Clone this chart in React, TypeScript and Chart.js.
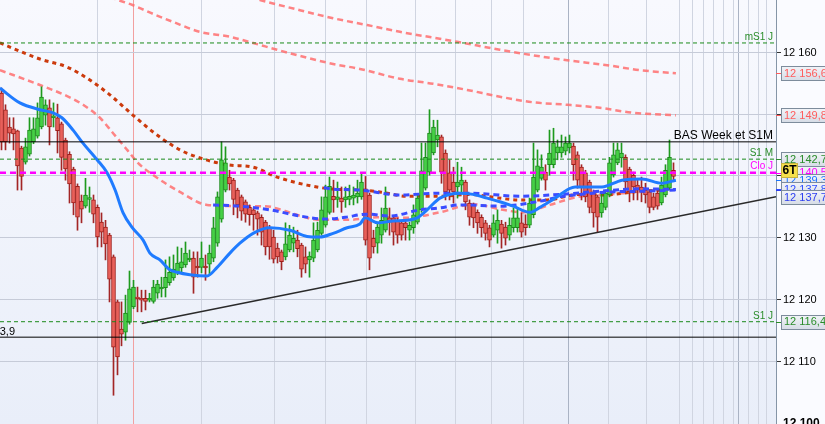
import React, { useEffect, useRef } from 'react';
import { Chart, registerables } from 'chart.js';

Chart.register(...registerables);

const FONT = 'Arial, "Liberation Sans", Helvetica, sans-serif';

// ---- Candles (index 0..168) ----
const opens = [
  12153.4, 12150.7, 12147.9, 12147.6, 12147.3, 12144.5, 12142.2, 12143.5, 12145.5, 12146.4,
  12147.9, 12149.8, 12151.0, 12149.4, 12149.4, 12148.4, 12145.8, 12143.5, 12141.1, 12138.3,
  12135.9, 12135.1, 12136.2, 12136.1, 12134.9, 12132.5, 12131.7, 12130.4, 12126.9, 12119.6,
  12115.2, 12114.7, 12116.3, 12118.8, 12120.4, 12120.2, 12120.2, 12119.9, 12119.7, 12121.0,
  12121.7, 12121.9, 12122.7, 12123.5, 12124.3, 12125.1, 12125.6, 12126.4, 12126.7, 12125.4,
  12125.2, 12125.4, 12125.7, 12126.7, 12129.1, 12133.0, 12137.7, 12139.8, 12139.3, 12137.7,
  12136.6, 12135.8, 12134.9, 12134.5, 12134.0, 12133.3, 12132.5, 12131.7, 12130.1, 12128.3,
  12127.7, 12126.9, 12128.0, 12129.1, 12129.6, 12128.8, 12126.9, 12126.4, 12126.7, 12128.0,
  12130.7, 12132.0, 12134.1, 12136.7, 12136.2, 12136.4, 12136.1, 12136.2, 12136.4, 12136.6,
  12136.6, 12137.9, 12136.9, 12129.9, 12129.1, 12130.4, 12131.2, 12133.2, 12133.2, 12132.8,
  12132.4, 12132.4, 12131.2, 12131.6, 12132.5, 12134.5, 12138.0, 12140.6, 12143.7, 12145.8,
  12146.3, 12143.7, 12140.5, 12139.0, 12138.2, 12138.5, 12139.0, 12135.6, 12135.3, 12134.1,
  12133.3, 12132.4, 12131.6, 12130.4, 12131.2, 12132.2, 12131.7, 12130.4, 12131.6, 12131.6,
  12132.4, 12132.2, 12132.0, 12133.7, 12137.7, 12139.6, 12140.6, 12141.8, 12141.8, 12143.7,
  12143.7, 12144.0, 12144.5, 12144.8, 12143.4, 12141.4, 12140.5, 12139.0, 12137.4, 12136.6,
  12134.0, 12134.9, 12136.9, 12140.1, 12142.1, 12142.9, 12143.0, 12141.1, 12140.1, 12138.5,
  12138.2, 12137.7, 12137.4, 12136.6, 12137.2, 12135.6, 12136.9, 12138.0, 12140.9,
];
const highs = [
  12154.2, 12151.5, 12149.4, 12149.4, 12147.4, 12144.8, 12146.1, 12149.4, 12149.4, 12151.8,
  12154.4, 12152.3, 12152.3, 12151.8, 12151.6, 12148.7, 12146.1, 12143.9, 12141.4, 12138.7,
  12136.9, 12139.6, 12138.2, 12136.9, 12135.3, 12134.0, 12132.8, 12130.7, 12127.2, 12119.9,
  12119.6, 12120.7, 12124.6, 12123.1, 12122.0, 12121.5, 12121.5, 12121.0, 12123.1, 12123.1,
  12123.6, 12126.4, 12126.9, 12127.2, 12128.5, 12128.3, 12129.3, 12128.0, 12127.7, 12127.7,
  12129.3, 12127.2, 12128.8, 12133.3, 12137.4, 12145.5, 12144.7, 12140.9, 12139.6, 12138.0,
  12136.9, 12136.1, 12135.3, 12134.8, 12134.3, 12133.7, 12132.8, 12132.0, 12131.2, 12129.1,
  12128.0, 12132.4, 12132.0, 12131.7, 12131.2, 12129.1, 12128.5, 12127.7, 12132.4, 12132.5,
  12136.6, 12138.5, 12139.8, 12139.3, 12139.0, 12138.2, 12138.2, 12138.5, 12138.2, 12139.3,
  12140.3, 12139.9, 12137.2, 12131.2, 12132.4, 12134.8, 12138.2, 12134.8, 12133.5, 12133.2,
  12132.8, 12132.8, 12132.5, 12135.3, 12136.9, 12145.3, 12145.3, 12150.7, 12149.0, 12149.0,
  12146.6, 12144.2, 12142.6, 12141.4, 12142.2, 12141.4, 12139.3, 12136.1, 12135.6, 12134.5,
  12133.7, 12132.8, 12132.0, 12133.7, 12134.5, 12132.8, 12132.5, 12133.2, 12134.8, 12134.9,
  12134.0, 12133.7, 12136.4, 12145.3, 12144.2, 12143.4, 12141.8, 12147.4, 12147.7, 12145.8,
  12146.6, 12146.3, 12146.6, 12145.3, 12143.9, 12141.8, 12140.9, 12139.3, 12137.7, 12136.9,
  12137.2, 12137.7, 12143.0, 12145.3, 12145.3, 12145.3, 12143.4, 12141.4, 12140.6, 12139.6,
  12139.8, 12138.8, 12137.7, 12137.2, 12137.7, 12139.8, 12141.8, 12145.8, 12142.1,
];
const lows = [
  12144.2, 12144.2, 12145.3, 12144.2, 12137.7, 12137.7, 12141.9, 12143.2, 12145.2, 12146.1,
  12147.6, 12148.2, 12145.0, 12147.9, 12143.7, 12140.9, 12139.3, 12135.6, 12133.7, 12131.2,
  12132.4, 12134.8, 12134.1, 12132.4, 12128.5, 12128.5, 12126.4, 12119.6, 12104.5, 12107.8,
  12112.5, 12113.4, 12116.0, 12118.5, 12118.0, 12118.0, 12118.3, 12119.6, 12119.4, 12120.2,
  12120.4, 12120.4, 12122.3, 12123.1, 12124.0, 12124.3, 12125.2, 12126.1, 12121.0, 12123.6,
  12124.3, 12123.1, 12124.0, 12126.1, 12128.6, 12132.5, 12137.4, 12137.7, 12133.7, 12133.2,
  12132.8, 12132.5, 12132.0, 12131.2, 12130.4, 12128.8, 12127.2, 12126.5, 12125.9, 12125.9,
  12124.8, 12126.4, 12127.7, 12127.7, 12126.9, 12123.6, 12124.3, 12123.6, 12126.1, 12127.7,
  12130.4, 12131.7, 12133.8, 12134.1, 12134.9, 12134.1, 12134.9, 12135.3, 12135.3, 12135.6,
  12136.2, 12128.8, 12124.8, 12127.5, 12127.5, 12129.1, 12130.9, 12130.4, 12128.8, 12129.1,
  12129.6, 12129.6, 12129.6, 12130.7, 12132.2, 12134.1, 12137.7, 12140.1, 12143.4, 12144.7,
  12138.8, 12136.1, 12136.1, 12135.6, 12136.4, 12137.4, 12134.5, 12132.0, 12131.6, 12130.7,
  12130.1, 12129.6, 12128.5, 12130.1, 12129.1, 12128.3, 12128.8, 12129.6, 12130.9, 12130.9,
  12130.1, 12130.4, 12131.6, 12133.2, 12137.4, 12139.3, 12137.7, 12140.1, 12141.3, 12142.6,
  12143.0, 12143.4, 12143.7, 12139.3, 12138.0, 12136.1, 12135.8, 12134.0, 12131.7, 12130.9,
  12133.3, 12134.5, 12136.6, 12139.8, 12141.8, 12141.4, 12137.2, 12135.8, 12136.1, 12136.1,
  12135.8, 12135.6, 12134.0, 12134.5, 12134.6, 12135.3, 12136.6, 12137.7, 12139.3,
];
const closes = [
  12145.5, 12145.5, 12146.9, 12146.8, 12141.6, 12139.9, 12144.7, 12147.4, 12147.6, 12149.4,
  12152.75, 12151.5, 12147.9, 12149.7, 12147.3, 12143.0, 12141.1, 12138.7, 12135.6, 12133.3,
  12134.6, 12136.9, 12136.5, 12133.8, 12130.1, 12130.9, 12129.0, 12123.3, 12112.3, 12110.7,
  12114.4, 12117.8, 12121.7, 12122.0, 12120.1, 12119.9, 12119.7, 12120.2, 12122.0, 12122.5,
  12122.0, 12123.6, 12124.4, 12124.9, 12125.9, 12126.1, 12127.5, 12126.7, 12123.6, 12125.1,
  12126.7, 12125.1, 12127.5, 12131.6, 12136.6, 12142.6, 12142.1, 12138.7, 12136.2, 12135.3,
  12134.3, 12133.8, 12133.7, 12133.7, 12133.0, 12130.9, 12128.5, 12128.5, 12126.5, 12126.9,
  12126.1, 12129.0, 12130.4, 12129.9, 12128.2, 12124.9, 12125.7, 12127.0, 12129.6, 12131.2,
  12134.5, 12136.6, 12138.3, 12136.1, 12136.6, 12135.8, 12136.6, 12136.7, 12136.9, 12137.2,
  12139.0, 12129.6, 12126.7, 12128.5, 12131.7, 12132.8, 12134.8, 12132.5, 12130.9, 12130.4,
  12130.4, 12131.6, 12132.0, 12133.7, 12136.4, 12140.8, 12143.0, 12146.9, 12147.9, 12146.6,
  12140.6, 12137.4, 12137.7, 12137.4, 12139.0, 12139.3, 12135.8, 12133.3, 12133.2, 12132.4,
  12131.6, 12130.7, 12129.6, 12132.4, 12132.8, 12130.7, 12129.9, 12132.0, 12133.2, 12133.2,
  12130.9, 12131.6, 12135.6, 12139.8, 12141.6, 12141.4, 12139.3, 12143.7, 12145.3, 12144.7,
  12144.7, 12145.3, 12145.3, 12141.8, 12139.3, 12138.2, 12136.6, 12134.9, 12134.0, 12133.3,
  12135.6, 12137.2, 12142.1, 12143.4, 12144.2, 12143.7, 12139.0, 12137.4, 12138.2, 12137.7,
  12137.4, 12136.9, 12134.9, 12134.9, 12135.1, 12138.5, 12140.9, 12143.0, 12139.9,
];

// ---- Indicator lines: [candle index, price] ----
const maBlue: [number, number][] = [
  [-0.4, 12154.2], [4.6, 12151.8], [9.6, 12150.7], [12.9, 12150.2], [15.1, 12149.4], [17.9, 12147.4],
  [20.1, 12145.5], [23.9, 12142.6], [26.4, 12140.5], [28.4, 12137.7], [30.4, 12134.0], [32.6, 12131.7],
  [35.4, 12129.6], [37.1, 12127.5], [39.6, 12126.4], [42.1, 12124.8], [43.9, 12124.4], [47.1, 12124.0],
  [51.4, 12123.8], [53.9, 12125.2], [57.1, 12127.5], [59.6, 12129.1], [62.9, 12130.7], [67.1, 12131.6],
  [72.1, 12131.2], [76.4, 12130.2], [79.6, 12130.1], [82.9, 12130.7], [86.4, 12131.6], [89.6, 12132.2],
  [90.9, 12133.2], [94.1, 12132.4], [97.9, 12132.7], [101.4, 12132.8], [103.9, 12133.2], [106.4, 12134.5],
  [109.6, 12136.4], [114.6, 12137.2], [117.9, 12137.0], [121.4, 12136.4], [124.6, 12135.8], [127.9, 12135.1],
  [132.1, 12134.1], [134.6, 12134.9], [138.4, 12136.4], [143.4, 12138.2], [150.1, 12138.2], [155.1, 12139.3],
  [160.1, 12139.5], [165.1, 12138.8], [168.6, 12139.3],
];
const maBlueDashA: [number, number][] = [
  [80.6, 12138.1], [82.1, 12137.9], [89.6, 12137.7],
  [99.6, 12136.9], [109.6, 12137.2], [117.1, 12137.2], [129.6, 12136.7], [139.6, 12137.0], [149.6, 12137.5],
  [159.6, 12137.9], [168.6, 12137.8],
];
const maBlueDashB: [number, number][] = [
  [52.9, 12135.3], [59.6, 12135.1], [67.1, 12134.5], [74.6, 12133.5], [81.1, 12133.0], [85.9, 12133.3],
  [91.4, 12133.8], [97.1, 12133.5], [104.6, 12134.5], [109.6, 12134.8], [114.6, 12135.3], [124.6, 12135.1],
  [134.6, 12135.9], [139.6, 12136.6], [144.6, 12137.0], [152.1, 12137.4], [159.6, 12137.5], [168.6, 12137.7],
];
const maRed: [number, number][] = [
  [-0.4, 12161.5], [9.6, 12158.9], [16.4, 12157.6], [22.1, 12155.5], [27.1, 12153.1], [32.9, 12149.8],
  [38.9, 12146.6], [44.6, 12144.2], [49.6, 12142.9], [56.4, 12141.8], [62.9, 12141.4], [68.9, 12139.8],
  [76.4, 12138.5], [82.1, 12137.9], [89.6, 12137.7], [94.6, 12137.4], [101.4, 12136.7], [109.6, 12136.7],
  [117.1, 12137.0], [122.1, 12136.6], [129.6, 12136.1], [135.9, 12136.1], [144.6, 12137.0], [150.1, 12136.9],
  [159.6, 12137.5], [165.1, 12137.7],
];
const bandLower: [number, number][] = [
  [-0.4, 12157.1], [9.6, 12154.7], [16.4, 12152.9], [20.4, 12151.5], [24.6, 12149.4], [27.9, 12146.9],
  [31.4, 12144.2], [34.1, 12142.1], [37.1, 12140.5], [44.6, 12137.4], [51.4, 12135.3], [59.6, 12135.1],
  [65.9, 12135.1], [70.9, 12134.3], [75.9, 12133.3], [78.9, 12132.9], [87.1, 12132.9], [94.1, 12133.3],
  [100.9, 12133.2], [109.6, 12134.1], [117.9, 12135.4], [124.6, 12134.6], [130.4, 12134.1], [137.1, 12135.3],
  [144.1, 12136.6], [150.1, 12136.9], [159.6, 12137.4],
];
const bandUpper1: [number, number][] = [
  [27.1, 12168.9], [29.1, 12168.45], [32.9, 12167.6], [37.9, 12166.2], [42.9, 12164.9], [49.6, 12163.3],
  [57.1, 12162.5], [62.9, 12161.5], [68.9, 12160.4], [76.4, 12159.1], [82.9, 12158.1], [89.6, 12157.3],
  [99.6, 12155.7], [107.9, 12154.9], [116.4, 12153.9], [124.6, 12152.8], [132.9, 12151.9], [141.4, 12151.5],
  [149.6, 12151.0], [157.9, 12150.2], [168.6, 12149.8],
];
const bandUpper2: [number, number][] = [
  [62.1, 12168.9], [64.6, 12168.45], [74.6, 12166.8], [82.9, 12165.5], [91.4, 12164.4], [99.6, 12163.3],
  [113.9, 12161.7], [124.6, 12160.4], [132.9, 12159.5], [141.4, 12158.7], [151.4, 12157.9], [159.6, 12157.1],
  [168.6, 12156.6],
];

// ---- Levels / trend ----
const levelValues = [12161.5, 12145.5, 12142.7, 12140.5, 12116.4, 12113.9];
const levelLabels = ['mS1 J', 'BAS Week et S1M', 'S1 M', 'Clo J', 'S1 J', '12 113,9'];
const trendLine: [number, number][] = [[35.05, 12116.1], [193.625, 12136.6]];

// ---- Axis ----
const yGridTicks = [12110, 12120, 12130, 12140, 12150, 12160];
const yLabelTicks = [12100, 12110, 12120, 12130, 12140, 12150, 12160];
const tagValues = [12156.6, 12149.8, 12142.7, 12140.5, 12139.3, 12137.8, 12137.7, 12116.4];
const tagText = ['12 156,6', '12 149,8', '12 142,7', '12 140,5', '12 139,3', '12 137,8', '12 137,7', '12 116,4'];
const timeGrid = [24.05, 50.05, 68.2, 81.1, 91.3, 103.4, 113.6, 122.55, 130.45, 141.7, 151.7, 161.3,
  169.6, 172.8, 175.45, 177.95, 180.45, 182.95, 184.2, 186.7, 189.2, 191.3];
const strongGrid = [141.7, 184.2];
const markerX = 32.9;
const badgeText = '6T';

const X_MIN = -0.375;
const X_MAX = 193.625;
const Y_MIN = 12099.85;
const Y_MAX = 12168.45;

const fmtTick = (v: number) => String(v).replace(/\B(?=(\d{3})+(?!\d))/g, ' ');

export default function App() {
  const ref = useRef<HTMLCanvasElement>(null);

  useEffect(() => {
    const canvas = ref.current;
    if (!canvas) return;
    const idx = opens.map((_, i) => i);
    const up = idx.map((i) => closes[i] >= opens[i]);

    const GREEN = '#2a8c2a';
    const levelStyle = [
      { color: GREEN, font: `10px ${FONT}`, dash: [4, 3], width: 1, line: '#1a8a1a', dy: 3, align: 'right' },
      { color: '#000', font: `12px ${FONT}`, dash: [], width: 1, line: '#000', dy: 3, align: 'right' },
      { color: GREEN, font: `10px ${FONT}`, dash: [4, 3], width: 1, line: '#1a8a1a', dy: 3, align: 'right' },
      { color: '#ff00ff', font: `10px ${FONT}`, dash: [6, 4], width: 2.5, line: '#ff00ff', dy: 4, align: 'right' },
      { color: GREEN, font: `10px ${FONT}`, dash: [4, 3], width: 1, line: '#1a8a1a', dy: 3, align: 'right' },
      { color: '#000', font: `11px ${FONT}`, dash: [], width: 1, line: '#000', dy: 2, align: 'left' },
    ];
    const tagColors = ['#ff5c5c', '#ff5c5c', GREEN, '#ff00ff', '#1a75ff', '#3050ff', '#2b3df0', GREEN];

    const lineDs = (pts: [number, number][], color: string, width: number, dash: number[], order: number) => ({
      type: 'line' as const,
      data: pts.map(([x, y]) => ({ x, y })),
      borderColor: color,
      borderWidth: width,
      borderDash: dash,
      pointRadius: 0,
      pointHoverRadius: 0,
      cubicInterpolationMode: 'monotone' as const,
      fill: false,
      order,
    });
    const flatDs = (v: number, color: string, width: number, dash: number[]) => ({
      type: 'line' as const,
      data: [{ x: X_MIN, y: v }, { x: X_MAX, y: v }],
      borderColor: color,
      borderWidth: width,
      borderDash: dash,
      pointRadius: 0,
      pointHoverRadius: 0,
      tension: 0,
      fill: false,
      order: 0,
    });

    const decor = {
      id: 'decor',
      beforeDraw(chart: any) {
        const { ctx, chartArea: a, width, height } = chart;
        ctx.save();
        ctx.fillStyle = '#fafbff';
        ctx.fillRect(0, 0, width, height);
        const g = ctx.createLinearGradient(0, a.top, 0, a.bottom);
        g.addColorStop(0, '#f8f9fe');
        g.addColorStop(1, '#e9eef9');
        ctx.fillStyle = g;
        ctx.fillRect(a.left, a.top, a.right - a.left, a.bottom - a.top);
        ctx.restore();
      },
      afterDatasetsDraw(chart: any) {
        const { ctx, chartArea: a } = chart;
        const ys = chart.scales.y;
        ctx.save();
        ctx.textBaseline = 'alphabetic';
        ctx.textAlign = 'right';
        levelValues.forEach((v, k) => {
          const st = levelStyle[k];
          const py = ys.getPixelForValue(v);
          ctx.font = st.font;
          ctx.fillStyle = st.color;
          const x = st.align === 'right' ? a.right - 3 : a.left + 15;
          ctx.fillText(levelLabels[k], x, py - st.dy);
        });
        ctx.restore();
      },
      afterDraw(chart: any) {
        const { ctx, chartArea: a } = chart;
        const ys = chart.scales.y;
        ctx.save();
        ctx.textAlign = 'left';
        ctx.textBaseline = 'middle';
        ctx.fillStyle = '#000';
        yLabelTicks.forEach((v) => {
          ctx.font = v === 12100 ? `bold 12px ${FONT}` : `11px ${FONT}`;
          ctx.fillText(fmtTick(v), a.right + 7, ys.getPixelForValue(v) + 0.5);
        });
        let prev = -100;
        const centers = tagValues.map((v) => {
          let c = ys.getPixelForValue(v);
          if (c < prev + 8) c = prev + 8;
          prev = c;
          return c;
        });
        tagValues.forEach((v, k) => {
          const raw = Math.round(ys.getPixelForValue(v)) + 0.5;
          ctx.strokeStyle = tagColors[k];
          ctx.lineWidth = 1;
          ctx.beginPath();
          ctx.moveTo(a.right, raw);
          ctx.lineTo(a.right + 6, raw);
          ctx.stroke();
        });
        tagValues.forEach((v, k) => {
          const c = centers[k];
          const top = Math.round(c - 7) + 0.5;
          const g = ctx.createLinearGradient(0, top, 0, top + 14);
          g.addColorStop(0, '#f2f4f8');
          g.addColorStop(1, '#d6dce6');
          ctx.fillStyle = g;
          ctx.fillRect(a.right + 5.5, top, 60, 14);
          ctx.strokeStyle = '#7d8c9c';
          ctx.lineWidth = 1;
          ctx.strokeRect(a.right + 5.5, top, 60, 14);
          ctx.fillStyle = tagColors[k];
          ctx.font = `11px ${FONT}`;
          ctx.fillText(tagText[k], a.right + 8, c + 0.5);
        });
        const bc = ys.getPixelForValue(tagValues[3]) - 2.5;
        const bt = Math.round(bc - 7) + 0.5;
        ctx.fillStyle = '#f6e04c';
        ctx.fillRect(a.right + 5.5, bt, 16, 14);
        ctx.strokeStyle = '#c9b440';
        ctx.strokeRect(a.right + 5.5, bt, 16, 14);
        ctx.fillStyle = '#000';
        ctx.font = `bold 12px ${FONT}`;
        ctx.textAlign = 'center';
        ctx.fillText(badgeText, a.right + 13.5, bc + 0.5);
        ctx.restore();
      },
    };

    const chart = new Chart(canvas, {
      type: 'line',
      data: {
        datasets: [
          ...levelValues.map((v, k) => flatDs(v, levelStyle[k].line, levelStyle[k].width, levelStyle[k].dash)),
          {
            type: 'line',
            data: trendLine.map(([x, y]) => ({ x, y })),
            borderColor: '#2a2a2a',
            borderWidth: 1.5,
            pointRadius: 0,
            pointHoverRadius: 0,
            tension: 0,
            fill: false,
            order: 0,
          },
          lineDs(maBlue, '#1f7bff', 3, [], 1),
          lineDs(maBlueDashA, '#3a4cff', 3, [6, 4], 1),
          lineDs(maBlueDashB, '#3a4cff', 3, [6, 4], 1),
          {
            type: 'bar',
            data: idx.map((i) => ({ x: i, y: [opens[i], closes[i]] })),
            backgroundColor: idx.map((i) => (up[i] ? '#45d045' : '#e8605a')),
            borderColor: idx.map((i) => (up[i] ? '#1a8a1a' : '#9e1e1a')),
            borderWidth: 1,
            borderSkipped: false,
            barThickness: 4,
            grouped: false,
            order: 2,
          },
          {
            type: 'bar',
            data: idx.map((i) => ({ x: i, y: [lows[i], highs[i]] })),
            backgroundColor: idx.map((i) => (up[i] ? '#1e9a1e' : '#a32626')),
            borderWidth: 0,
            barThickness: 1,
            grouped: false,
            order: 3,
          },
          lineDs(maRed, '#cc3a0c', 3, [4, 4], 4),
          lineDs(bandLower, 'rgba(255,110,110,0.85)', 2.5, [6, 4], 4),
          lineDs(bandUpper1, 'rgba(255,110,110,0.85)', 2.5, [6, 4], 4),
          lineDs(bandUpper2, 'rgba(255,110,110,0.85)', 2.5, [6, 4], 4),
        ] as any,
      },
      options: {
        animation: false,
        responsive: false,
        devicePixelRatio: 1,
        events: [],
        layout: { padding: 0, autoPadding: false },
        plugins: { legend: { display: false }, tooltip: { enabled: false }, title: { display: false } },
        scales: {
          x: {
            type: 'linear',
            min: X_MIN,
            max: X_MAX,
            offset: false,
            display: true,
            ticks: { display: false },
            border: { display: false },
            grid: {
              offset: false,
              drawTicks: false,
              lineWidth: 1,
              color: (c: any) => {
                const v = c.tick ? c.tick.value : 0;
                if (v === markerX) return '#f2a0a0';
                if (strongGrid.includes(v)) return '#aab3c4';
                return '#d0d5e1';
              },
            },
            afterBuildTicks: (s: any) => {
              s.ticks = [markerX, ...timeGrid].sort((p, q) => p - q).map((v) => ({ value: v }));
            },
            afterFit: (s: any) => {
              s.height = 0;
            },
          },
          y: {
            type: 'linear',
            position: 'right',
            min: Y_MIN,
            max: Y_MAX,
            ticks: { display: false },
            border: { display: true, color: '#8595a7', width: 1 },
            grid: { color: '#c6cbd8', lineWidth: 1, drawTicks: true, tickLength: 5, tickColor: '#333' },
            afterBuildTicks: (s: any) => {
              s.ticks = yGridTicks.map((v) => ({ value: v }));
            },
            afterFit: (s: any) => {
              s.width = 49;
            },
          },
        },
      } as any,
      plugins: [decor],
    });
    return () => chart.destroy();
  }, []);

  return (
    <div style={{ position: 'absolute', left: 0, top: 0, width: 825, height: 424 }}>
      <canvas ref={ref} width={825} height={424} style={{ display: 'block' }} />
    </div>
  );
}
